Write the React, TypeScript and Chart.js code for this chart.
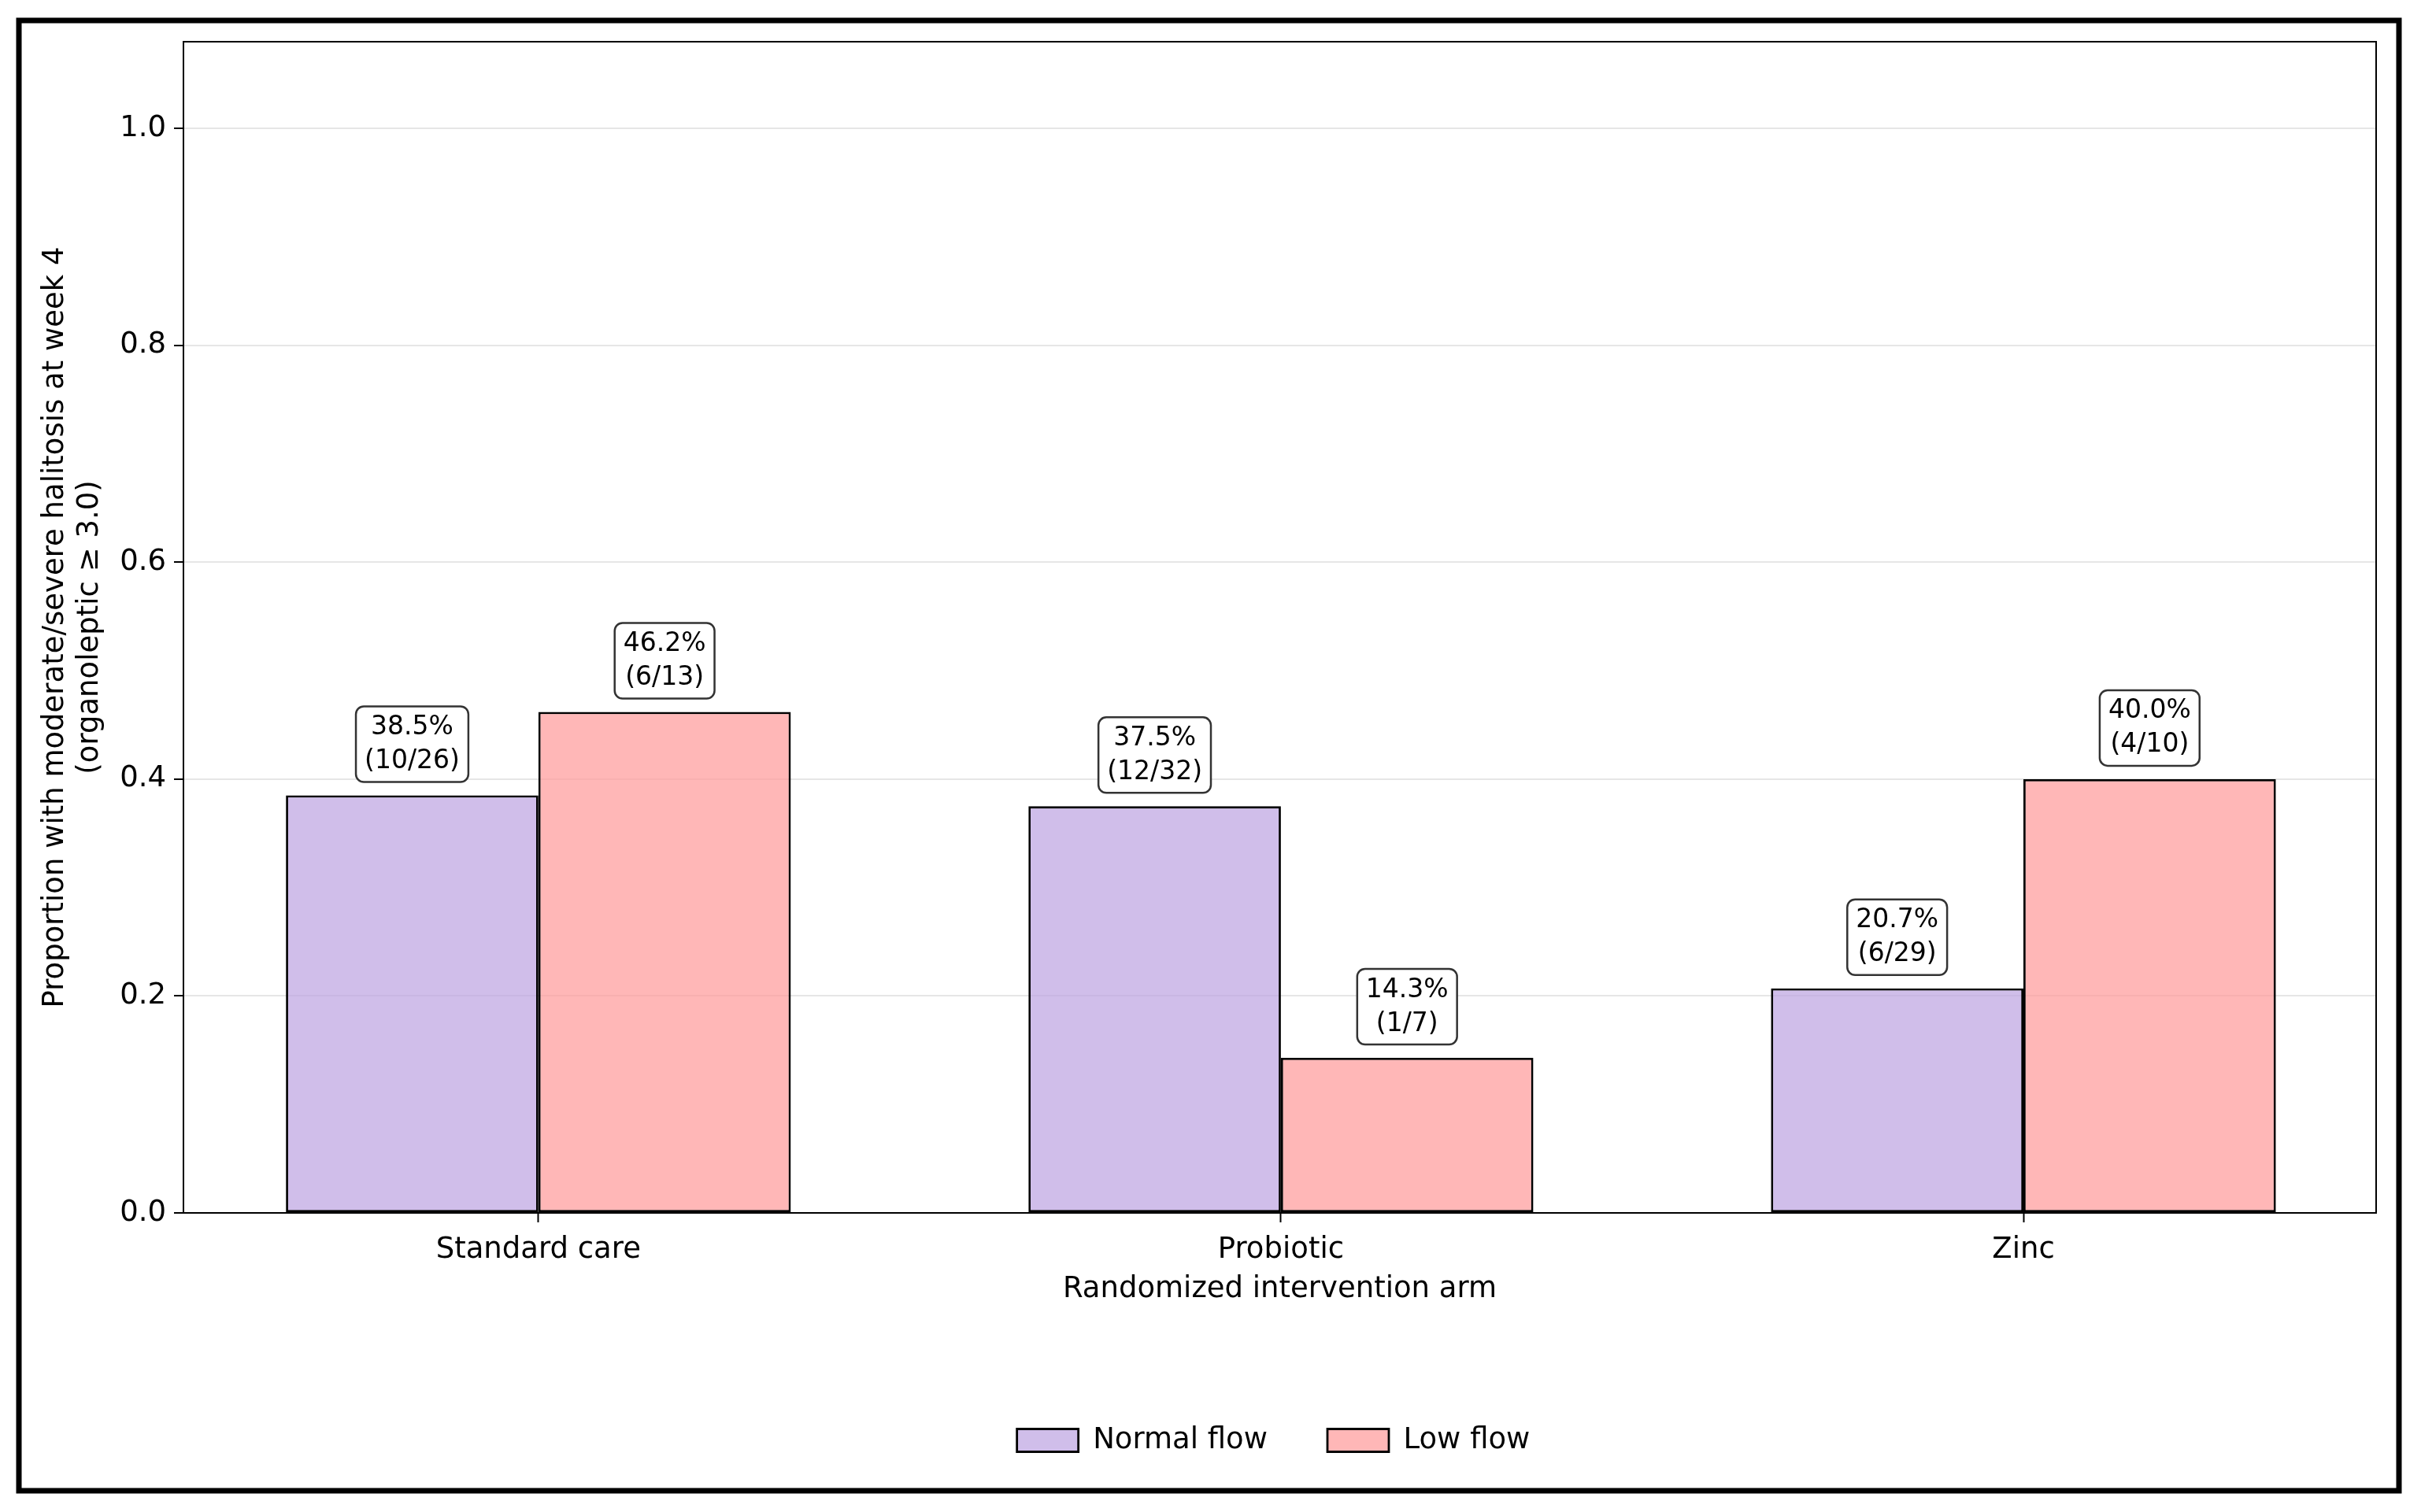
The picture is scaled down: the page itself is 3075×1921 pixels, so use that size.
import React, { useEffect, useRef } from "react";
import { Chart, registerables } from "chart.js";

Chart.register(...registerables);

const categories = ["Standard care", "Probiotic", "Zinc"];
const seriesNames = ["Normal flow", "Low flow"];
const normalFlow = [0.385, 0.375, 0.207];
const lowFlow = [0.462, 0.143, 0.4];
const normalPct = ["38.5%", "37.5%", "20.7%"];
const lowPct = ["46.2%", "14.3%", "40.0%"];
const normalCounts = ["(10/26)", "(12/32)", "(6/29)"];
const lowCounts = ["(6/13)", "(1/7)", "(4/10)"];
const yTicks = [0, 0.2, 0.4, 0.6, 0.8, 1.0];
const xPositions = [0, 1, 2];
const yTitle = ["Proportion with moderate/severe halitosis at week 4", "(organoleptic \u2265 3.0)"];
const xTitle = "Randomized intervention arm";

const FONT = "DejaVu Sans";
const W = 3075;
const H = 1921;

const annotationPlugin = {
  id: "barAnnotations",
  afterDatasetsDraw(chart: any) {
    const ctx = chart.ctx;
    const texts = [
      [normalPct, normalCounts],
      [lowPct, lowCounts],
    ];
    chart.data.datasets.forEach((_ds: any, di: number) => {
      const meta = chart.getDatasetMeta(di);
      meta.data.forEach((bar: any, i: number) => {
        const lines = [texts[di][0][i], texts[di][1][i]];
        ctx.save();
        ctx.font = `33px "${FONT}"`;
        const tw = Math.max(...lines.map((l: string) => ctx.measureText(l).width));
        const bw = tw + 22;
        const bh = 96;
        const bottom = bar.y - 17;
        const top = bottom - bh;
        const left = bar.x - bw / 2;
        ctx.beginPath();
        ctx.roundRect(left, top, bw, bh, 10);
        ctx.fillStyle = "#ffffff";
        ctx.fill();
        ctx.lineWidth = 2.5;
        ctx.strokeStyle = "#333333";
        ctx.stroke();
        ctx.fillStyle = "#000000";
        ctx.textAlign = "center";
        ctx.textBaseline = "middle";
        ctx.fillText(lines[0], bar.x, top + 27);
        ctx.fillText(lines[1], bar.x, top + 70);
        ctx.restore();
      });
    });
  },
};

const framePlugin = {
  id: "frames",
  beforeDraw(chart: any) {
    const ctx = chart.ctx;
    ctx.save();
    ctx.fillStyle = "#ffffff";
    ctx.fillRect(0, 0, chart.width, chart.height);
    ctx.restore();
  },
  afterLayout(chart: any) {
    const lg = chart.legend;
    if (lg) {
      lg.left = chart.chartArea.left - 8;
      lg.right = chart.chartArea.right - 8;
    }
  },
  afterDraw(chart: any) {
    const ctx = chart.ctx;
    const a = chart.chartArea;
    ctx.save();
    ctx.strokeStyle = "#000000";
    ctx.lineWidth = 2;
    ctx.strokeRect(a.left, a.top, a.right - a.left, a.bottom - a.top);
    ctx.lineWidth = 7;
    ctx.strokeRect(24, 26, 3023, 1868);
    ctx.restore();
  },
};

export default function App() {
  const ref = useRef<HTMLCanvasElement | null>(null);

  useEffect(() => {
    if (!ref.current) return;
    const chart = new Chart(ref.current, {
      type: "bar",
      data: {
        datasets: [
          {
            label: seriesNames[0],
            data: xPositions.map((x, i) => ({ x, y: normalFlow[i] })),
            backgroundColor: "rgba(188,162,225,0.7)",
            borderColor: "#000000",
            borderWidth: 2.8,
            borderSkipped: false,
            categoryPercentage: 0.68,
            barPercentage: 1.0,
          },
          {
            label: seriesNames[1],
            data: xPositions.map((x, i) => ({ x, y: lowFlow[i] })),
            backgroundColor: "rgba(255,152,152,0.7)",
            borderColor: "#000000",
            borderWidth: 2.8,
            borderSkipped: false,
            categoryPercentage: 0.68,
            barPercentage: 1.0,
          },
        ],
      } as any,
      options: {
        animation: false,
        responsive: false,
        devicePixelRatio: 1,
        layout: { padding: { left: 30, right: 57, top: 53, bottom: 62.5 } },
        plugins: {
          legend: {
            display: true,
            position: "bottom",
            labels: {
              font: { family: FONT, size: 37 },
              color: "#000000",
              boxWidth: 78,
              boxHeight: 29,
              padding: 76,
            },
          },
          tooltip: { enabled: false },
        },
        scales: {
          x: {
            type: "linear",
            offset: false,
            min: -0.478,
            max: 2.475,
            afterBuildTicks: (scale: any) => {
              scale.ticks = xPositions.map((v) => ({ value: v }));
            },
            afterFit: (scale: any) => {
              scale.height = 194.5;
            },
            ticks: {
              font: { family: FONT, size: 37 },
              color: "#000000",
              padding: 13,
              maxRotation: 0,
              autoSkip: false,
              callback: (v: any) => categories[Math.round(Number(v))] ?? "",
            },
            grid: {
              offset: false,
              drawOnChartArea: false,
              drawTicks: true,
              tickLength: 12,
              tickColor: "#000000",
              tickWidth: 2,
            },
            border: { display: true, color: "#000000", width: 2 },
            title: {
              display: true,
              text: xTitle,
              font: { family: FONT, size: 37, lineHeight: 1.25 },
              color: "#000000",
              padding: { top: 0, bottom: 73.5 },
            },
          },
          y: {
            type: "linear",
            min: 0,
            max: 1.08,
            afterBuildTicks: (scale: any) => {
              scale.ticks = yTicks.map((v) => ({ value: v }));
            },
            afterFit: (scale: any) => {
              scale.width = 203;
            },
            ticks: {
              font: { family: FONT, size: 37 },
              color: "#000000",
              padding: 10,
              callback: (v: any) => Number(v).toFixed(1),
            },
            grid: {
              color: "#e6e6e6",
              lineWidth: 2,
              drawTicks: true,
              tickLength: 12,
              tickColor: "#000000",
              tickWidth: 2,
            },
            border: { display: true, color: "#000000", width: 2 },
            title: {
              display: true,
              text: yTitle,
              font: { family: FONT, size: 37, lineHeight: 1.2 },
              color: "#000000",
              padding: { top: 18, bottom: 0 },
            },
          },
        },
      } as any,
      plugins: [annotationPlugin, framePlugin],
    });
    return () => chart.destroy();
  }, []);

  return (
    <canvas
      ref={ref}
      width={W}
      height={H}
      style={{ position: "fixed", left: 0, top: 0, width: W, height: H, display: "block" }}
    />
  );
}
